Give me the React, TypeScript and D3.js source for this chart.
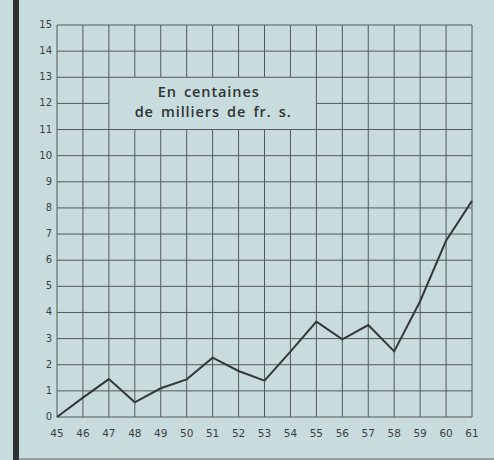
import React from "react";
import * as d3 from "d3";

const years = [45, 46, 47, 48, 49, 50, 51, 52, 53, 54, 55, 56, 57, 58, 59, 60, 61];
const yearLabels = ["45", "46", "47", "48", "49", "50", "51", "52", "53", "54", "55", "56", "57", "58", "59", "60", "61"];
const values = [0, 0.74, 1.45, 0.56, 1.1, 1.44, 2.27, 1.76, 1.39, 2.5, 3.65, 2.97, 3.52, 2.51, 4.43, 6.75, 8.27];
const yTicks = [0, 1, 2, 3, 4, 5, 6, 7, 8, 9, 10, 11, 12, 13, 14, 15];
const titleLines = ["En centaines", "de milliers de fr. s."];
const boxYears = [47, 55];
const boxValues = [11, 13];

export default function App() {
  const W = 494, H = 460;
  const x = d3.scaleLinear().domain([45, 61]).range([57, 472]);
  const y = d3.scaleLinear().domain([0, 15]).range([417, 25]);
  const grid = "#525858";
  const inBox = (xv: number, yv: number) =>
    xv > boxYears[0] && xv < boxYears[1] && yv > boxValues[0] && yv < boxValues[1];

  const line = d3
    .line<number>()
    .x((_, i) => x(years[i]))
    .y((d) => y(d));

  const hSegs: { x1: number; x2: number; yv: number }[] = [];
  yTicks.forEach((t) => {
    for (let i = 0; i < years.length - 1; i++) {
      const a = years[i], b = years[i + 1];
      if (inBox((a + b) / 2, t)) continue;
      hSegs.push({ x1: a, x2: b, yv: t });
    }
  });
  const vSegs: { xv: number; y1: number; y2: number }[] = [];
  years.forEach((yr) => {
    for (let j = 0; j < yTicks.length - 1; j++) {
      const a = yTicks[j], b = yTicks[j + 1];
      if (inBox(yr, (a + b) / 2)) continue;
      vSegs.push({ xv: yr, y1: a, y2: b });
    }
  });

  const boxCx = (x(boxYears[0]) + x(boxYears[1])) / 2;

  return (
    <svg
      width={W}
      height={H}
      style={{ position: "absolute", left: 0, top: 0, background: "#c9dcdd" }}
    >
      <rect x={0} y={0} width={W} height={H} fill="#c9dcdd" />
      <rect x={13} y={0} width={6} height={H} fill="#2e3232" />
      <line x1={18} x2={W} y1={459} y2={459} stroke="#5a6262" strokeWidth={1.2} />
      <g stroke={grid} strokeWidth={1}>
        {hSegs.map((s, i) => (
          <line key={"h" + i} x1={x(s.x1)} x2={x(s.x2)} y1={y(s.yv)} y2={y(s.yv)} />
        ))}
        {vSegs.map((s, i) => (
          <line key={"v" + i} x1={x(s.xv)} x2={x(s.xv)} y1={y(s.y1)} y2={y(s.y2)} />
        ))}
      </g>
      <path d={line(values) || ""} fill="none" stroke="#333838" strokeWidth={2} strokeLinejoin="miter" />
      <g fontFamily="DejaVu Sans" fontSize={10} fill="#3a3f3f">
        {yTicks.map((t) => (
          <text key={"y" + t} x={52} y={y(t) + 3} textAnchor="end">
            {t}
          </text>
        ))}
        {years.map((yr, i) => (
          <text key={"x" + yr} x={x(yr)} y={437} textAnchor="middle" fontSize={10.5}>
            {yearLabels[i]}
          </text>
        ))}
      </g>
      <g fontFamily="Open Sans" fontWeight={600} fontSize={14.5} fill="#2f3434" textAnchor="middle" letterSpacing={0.9} wordSpacing={2.5}>
        <text x={boxCx - 4} y={97}>{titleLines[0]}</text>
        <text x={boxCx + 0.5} y={117}>{titleLines[1]}</text>
      </g>
    </svg>
  );
}
